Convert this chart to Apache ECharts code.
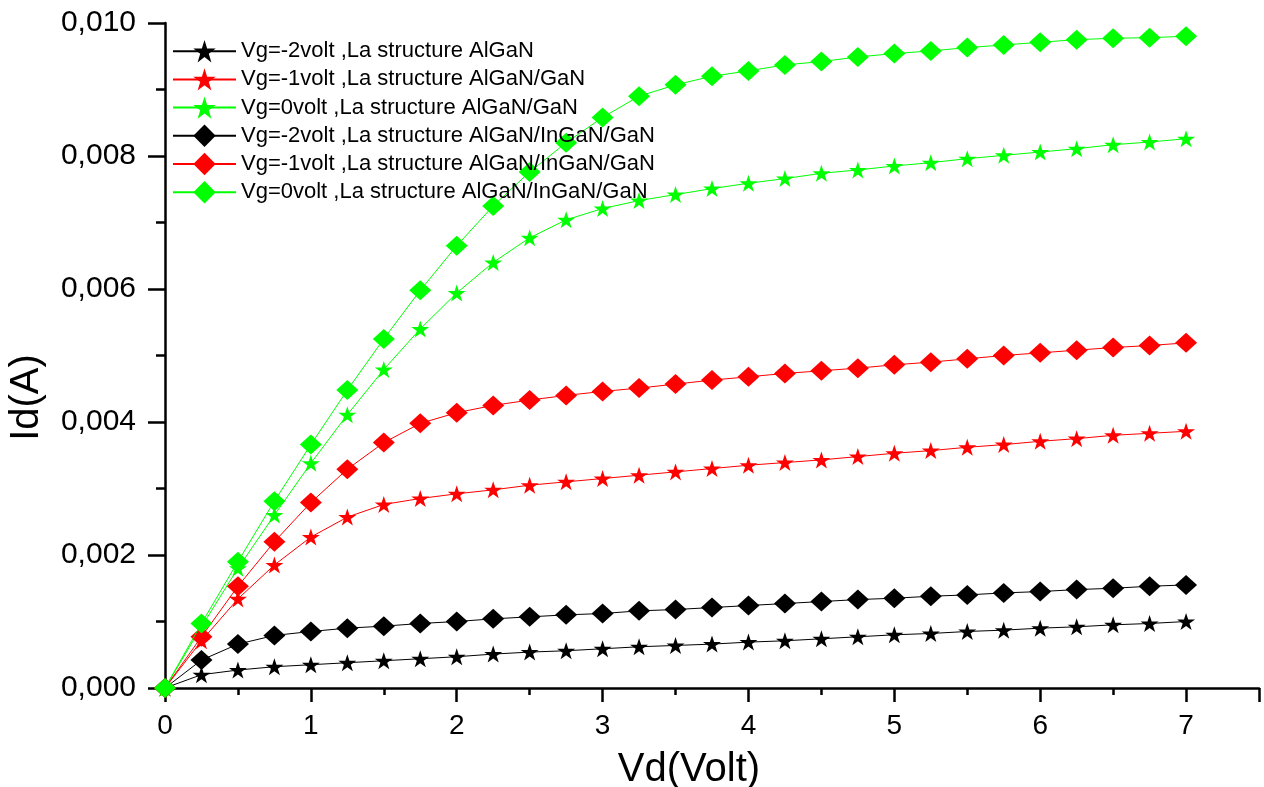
<!DOCTYPE html>
<html>
<head>
<meta charset="utf-8">
<script src="https://cdn.jsdelivr.net/npm/echarts@6/dist/echarts.min.js"></script>
<style>
html,body{margin:0;padding:0;background:#fff;overflow:hidden;}
#chart{width:1264px;height:787px;}
</style>
</head>
<body>
<div id="chart"></div>
<script>
const vd = [0, 0.25, 0.5, 0.75, 1, 1.25, 1.5, 1.75, 2, 2.25, 2.5, 2.75, 3, 3.25, 3.5, 3.75, 4, 4.25, 4.5, 4.75, 5, 5.25, 5.5, 5.75, 6, 6.25, 6.5, 6.75, 7];

const names = [
  'Vg=-2volt ,La structure AlGaN',
  'Vg=-1volt ,La structure AlGaN/GaN',
  'Vg=0volt ,La structure AlGaN/GaN',
  'Vg=-2volt ,La structure AlGaN/InGaN/GaN',
  'Vg=-1volt ,La structure AlGaN/InGaN/GaN',
  'Vg=0volt ,La structure AlGaN/InGaN/GaN'
];

const idAlGaN_m2 = [0, 0.00020, 0.00027, 0.00032, 0.00035, 0.00038, 0.00041, 0.00044, 0.00047, 0.00051, 0.00054, 0.00056, 0.00059, 0.00062, 0.00064, 0.00066, 0.00069, 0.00071, 0.00074, 0.00077, 0.00080, 0.00082, 0.00085, 0.00087, 0.00090, 0.00092, 0.00095, 0.00097, 0.00100];
const idAlGaN_m1 = [0, 0.00071, 0.00134, 0.00185, 0.00227, 0.00257, 0.00276, 0.00285, 0.00292, 0.00298, 0.00305, 0.00310, 0.00315, 0.00320, 0.00325, 0.00330, 0.00335, 0.00339, 0.00343, 0.00348, 0.00353, 0.00357, 0.00362, 0.00366, 0.00371, 0.00375, 0.00380, 0.00383, 0.00386];
const idAlGaN_0 = [0, 0.00092, 0.00180, 0.00260, 0.00338, 0.00411, 0.00479, 0.00540, 0.00594, 0.00640, 0.00677, 0.00704, 0.00721, 0.00733, 0.00742, 0.00751, 0.00759, 0.00766, 0.00774, 0.00779, 0.00785, 0.00790, 0.00796, 0.00801, 0.00806, 0.00811, 0.00817, 0.00821, 0.00826];
const idInGaN_m2 = [0, 0.00042, 0.00066, 0.00079, 0.00085, 0.00090, 0.00093, 0.00097, 0.00100, 0.00104, 0.00107, 0.00110, 0.00112, 0.00116, 0.00118, 0.00121, 0.00124, 0.00127, 0.00130, 0.00133, 0.00135, 0.00138, 0.00140, 0.00143, 0.00145, 0.00148, 0.00150, 0.00153, 0.00155];
const idInGaN_m1 = [0, 0.00077, 0.00153, 0.00220, 0.00279, 0.00329, 0.00369, 0.00398, 0.00414, 0.00425, 0.00433, 0.00440, 0.00446, 0.00451, 0.00457, 0.00463, 0.00468, 0.00473, 0.00477, 0.00481, 0.00486, 0.00490, 0.00495, 0.00500, 0.00504, 0.00508, 0.00512, 0.00515, 0.00519];
const idInGaN_0 = [0, 0.00097, 0.00190, 0.00281, 0.00366, 0.00448, 0.00525, 0.00598, 0.00665, 0.00725, 0.00776, 0.00820, 0.00858, 0.00890, 0.00907, 0.00920, 0.00928, 0.00937, 0.00942, 0.00949, 0.00954, 0.00958, 0.00963, 0.00967, 0.00971, 0.00975, 0.00977, 0.00978, 0.00980];

const seriesValues = [idAlGaN_m2, idAlGaN_m1, idAlGaN_0, idInGaN_m2, idInGaN_m1, idInGaN_0];
const colors = ['#000000', '#ff0000', '#00ff00', '#000000', '#ff0000', '#00ff00'];
const STAR = 'path://M50,0 L61.2,34.5 L97.6,34.5 L68.2,55.9 L79.4,90.5 L50,69.1 L20.6,90.5 L31.8,55.9 L2.4,34.5 L38.8,34.5 Z';
const markers = [STAR, STAR, STAR, 'diamond', 'diamond', 'diamond'];
const markerSizes = [[18, 17], [18, 17], [18, 17], [22, 20], [22, 20], [22, 20]];

const FONT = '"Liberation Sans", Arial, sans-serif';
const chart = echarts.init(document.getElementById('chart'), null, {renderer: 'canvas'});

const series = seriesValues.map((vals, i) => ({
  name: names[i],
  type: 'line',
  data: vd.map((x, j) => [x, vals[j]]),
  symbol: markers[i],
  symbolSize: markerSizes[i],
  showAllSymbol: true,
  clip: false,
  color: colors[i],
  itemStyle: {color: colors[i], borderWidth: 0},
  lineStyle: {color: colors[i], width: 1},
  emphasis: {disabled: true},
  animation: false,
  z: 2 + i
}));

chart.setOption({
  backgroundColor: '#ffffff',
  animation: false,
  grid: {left: 165, right: 5, top: 23, bottom: 99, containLabel: false, outerBoundsMode: 'none'},
  legend: {
    orient: 'vertical',
    left: 167,
    top: 35,
    itemWidth: 63,
    itemHeight: 28,
    itemGap: 5.8,
    textStyle: {fontFamily: FONT, fontSize: 22, color: '#000'},
    data: names,
    backgroundColor: 'transparent',
    z: 10
  },
  xAxis: {
    type: 'value',
    min: 0,
    max: 7.5,
    interval: 1,
    name: 'Vd(Volt)',
    nameLocation: 'middle',
    nameGap: 62,
    nameTextStyle: {fontFamily: FONT, fontSize: 40, color: '#000', padding: [0, 46, 0, 0]},
    axisLine: {show: true, onZero: false, lineStyle: {color: '#000', width: 2.5}},
    axisTick: {show: true, inside: false, length: 14, lineStyle: {color: '#000', width: 2.5}},
    minorTick: {show: true, splitNumber: 2, length: 7, lineStyle: {color: '#000', width: 2.5}},
    axisLabel: {
      fontFamily: FONT, fontSize: 28, color: '#000', margin: 24,
      showMaxLabel: false,
      formatter: v => (Number.isInteger(v) ? String(v) : '')
    },
    splitLine: {show: false},
    minorSplitLine: {show: false}
  },
  yAxis: {
    type: 'value',
    min: 0,
    max: 0.01,
    interval: 0.002,
    name: 'Id(A)',
    nameLocation: 'middle',
    nameGap: 118,
    nameRotate: 90,
    nameTextStyle: {fontFamily: FONT, fontSize: 40, color: '#000', padding: [0, 84, 0, 0]},
    axisLine: {show: true, onZero: false, lineStyle: {color: '#000', width: 2.5}},
    axisTick: {show: true, inside: false, length: 17, lineStyle: {color: '#000', width: 2.5}},
    minorTick: {show: true, splitNumber: 2, length: 9, lineStyle: {color: '#000', width: 2.5}},
    axisLabel: {
      fontFamily: FONT, fontSize: 30, color: '#000', margin: 29,
      formatter: v => v.toFixed(3).replace('.', ',')
    },
    splitLine: {show: false},
    minorSplitLine: {show: false}
  },
  series: series
});
</script>
</body>
</html>
